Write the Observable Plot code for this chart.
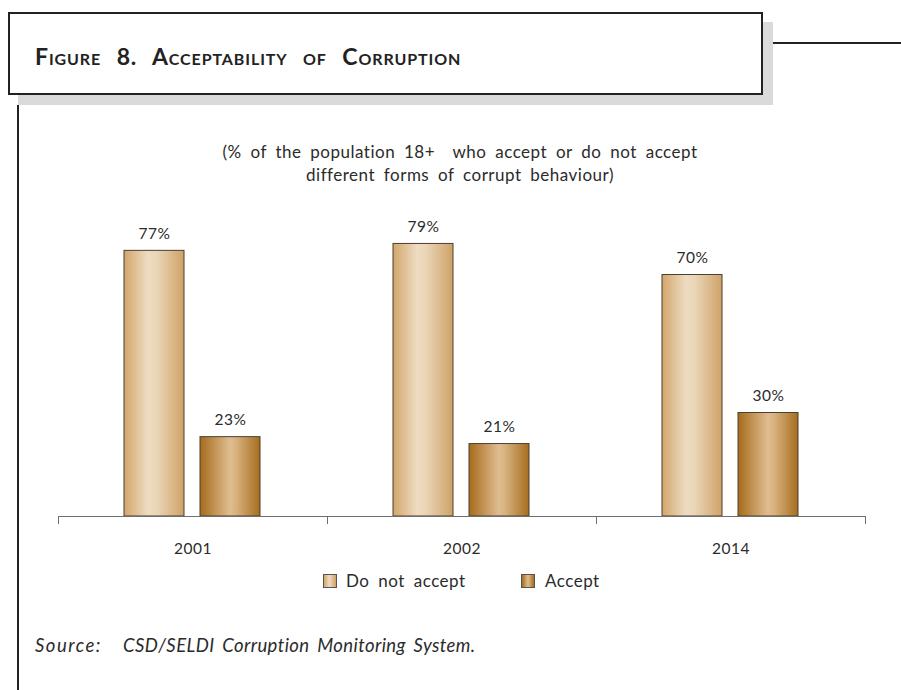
<!DOCTYPE html>
<html>
<head>
<meta charset="utf-8">
<script src="https://cdn.jsdelivr.net/npm/d3@7"></script>
<script src="https://cdn.jsdelivr.net/npm/@observablehq/plot@0.6"></script>
<style>
  html, body { margin: 0; padding: 0; background: #fff; }
  #page { position: relative; width: 901px; height: 690px; overflow: hidden; font-family: Lato, "Open Sans", sans-serif; color: #2b2b2b; }
  .abs { position: absolute; }
  #shadow { left: 18px; top: 22px; width: 755px; height: 83px; background: #dadada; }
  #titlebox { left: 8px; top: 12px; width: 751px; height: 79px; border: 2px solid #222; background: #fff; }
  #title { left: 35px; top: 42px; font-size: 23px; font-weight: 700; font-variant: small-caps; letter-spacing: 0.9px; word-spacing: 9px; white-space: nowrap; color: #222; }
  #hline { left: 773px; top: 42px; width: 128px; height: 2px; background: #222; }
  #vline { left: 17px; top: 105px; width: 2px; height: 585px; background: #222; }
  #subtitle { left: 110px; width: 700px; top: 140px; text-align: center; font-size: 17px; line-height: 23px; letter-spacing: 0.5px; word-spacing: 4px; }
  #chart { left: 0; top: 140px; }
  #legend { left: 0; top: 570px; width: 901px; font-size: 17px; letter-spacing: 0.5px; word-spacing: 4px; }
  .sw { position: absolute; top: 4px; width: 12px; height: 12px; border: 1px solid #555; }
  .lt { position: absolute; top: 0; white-space: nowrap; }
  #source1, #source2 { top: 634px; font-size: 18.5px; font-style: italic; white-space: nowrap; letter-spacing: 0.4px; word-spacing: 3px; }
  #source1 { left: 35px; letter-spacing: 1.5px; }
  #source2 { left: 123px; }
</style>
</head>
<body>
<div id="page">
  <div id="shadow" class="abs"></div>
  <div id="titlebox" class="abs"></div>
  <div id="title" class="abs">Figure 8. Acceptability of Corruption</div>
  <div id="hline" class="abs"></div>
  <div id="vline" class="abs"></div>
  <div id="chart" class="abs"></div>
  <div id="subtitle" class="abs">(% of the population 18+&nbsp; who accept or do not accept<br>different forms of corrupt behaviour)</div>
  <div id="legend" class="abs"></div>
  <div id="source1" class="abs">Source:</div>
  <div id="source2" class="abs">CSD/SELDI Corruption Monitoring System.</div>
</div>
<script>
// ---- data ----
const years = ["2001", "2002", "2014"];
const seriesNames = ["Do not accept", "Accept"];
const doNotAccept = [77, 79, 70];
const accept = [23, 21, 30];

const data = [];
years.forEach((y, i) => {
  data.push({year: y, series: seriesNames[0], value: doNotAccept[i]});
  data.push({year: y, series: seriesNames[1], value: accept[i]});
});

const gradIds = {"Do not accept": "gradDNA", "Accept": "gradA"};

const plot = Plot.plot({
  width: 901,
  height: 430,
  marginLeft: 57,
  marginRight: 36,
  marginTop: 31,
  marginBottom: 54,
  style: {fontFamily: "Lato, 'Open Sans', sans-serif", fontSize: "15.5px", color: "#2b2b2b", background: "transparent", letterSpacing: "0.5px"},
  fx: {domain: years, padding: 0, axis: "bottom", tickSize: 0, tickPadding: 26, label: null},
  x: {domain: seriesNames, paddingInner: 0.208, paddingOuter: 0.853, axis: null},
  y: {domain: [0, 100], axis: null},
  color: {domain: seriesNames, range: seriesNames.map(s => `url(#${gradIds[s]})`)},
  marks: [
    Plot.barY(data, {fx: "year", x: "series", y: "value", fill: "series", stroke: "#4a3f33", strokeWidth: 1}),
    Plot.text(data, {fx: "year", x: "series", y: "value", text: d => d.value + "%", dy: -17, fontSize: 15.5, fill: "#2b2b2b", style: {letterSpacing: "1.5px"}}),
    Plot.ruleY([0], {stroke: "#6e6e6e", strokeWidth: 1}),
    Plot.frame({anchor: "left", stroke: "#6e6e6e", insetTop: 345, insetBottom: -7}),
    Plot.frame({anchor: "right", stroke: "#6e6e6e", insetTop: 345, insetBottom: -7})
  ]
});

// gradient definitions for bar fills
const ns = "http://www.w3.org/2000/svg";
const defs = document.createElementNS(ns, "defs");
function addGrad(id, stops) {
  const g = document.createElementNS(ns, "linearGradient");
  g.setAttribute("id", id);
  g.setAttribute("x1", "0"); g.setAttribute("x2", "1"); g.setAttribute("y1", "0"); g.setAttribute("y2", "0");
  stops.forEach(([o, c]) => {
    const s = document.createElementNS(ns, "stop");
    s.setAttribute("offset", o);
    s.setAttribute("stop-color", c);
    g.appendChild(s);
  });
  defs.appendChild(g);
}
addGrad("gradDNA", [["0", "#d2a66b"], ["0.4", "#eedcc2"], ["0.55", "#ead5b6"], ["1", "#cfa267"]]);
addGrad("gradA", [["0", "#a66b1c"], ["0.5", "#dfbd90"], ["0.6", "#d8b27f"], ["1", "#a66d1e"]]);
plot.insertBefore(defs, plot.firstChild);
document.getElementById("chart").appendChild(plot);

// legend (HTML)
const legend = document.getElementById("legend");
const legendPos = [{sw: 323, tx: 346}, {sw: 521, tx: 545}];
const swatchCss = {
  "Do not accept": "linear-gradient(to right, #d2a66b, #eedcc2 45%, #cfa267)",
  "Accept": "linear-gradient(to right, #a66b1c, #dfbd90 50%, #a66d1e)"
};
seriesNames.forEach((s, i) => {
  const sw = document.createElement("div");
  sw.className = "sw";
  sw.style.left = legendPos[i].sw + "px";
  sw.style.background = swatchCss[s];
  legend.appendChild(sw);
  const t = document.createElement("div");
  t.className = "lt";
  t.style.left = legendPos[i].tx + "px";
  t.textContent = s;
  legend.appendChild(t);
});
</script>
</body>
</html>
